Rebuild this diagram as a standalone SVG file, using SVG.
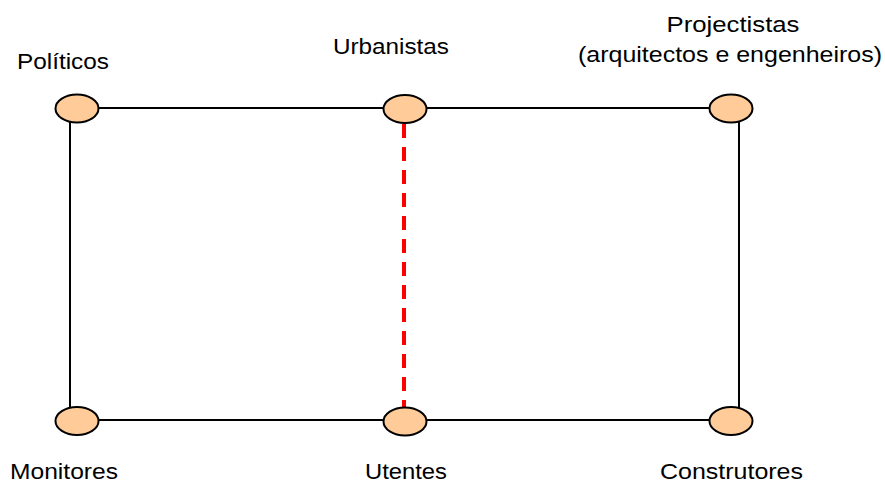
<svg xmlns="http://www.w3.org/2000/svg" width="885" height="486" viewBox="0 0 885 486">
<style>
.node{fill:#FFCC99;stroke:#000;stroke-width:2}
.edge{stroke:#000;stroke-width:2;fill:none}
.dash{stroke:#FF0000;stroke-width:4;stroke-dasharray:14,9;fill:none}
text{font-family:"Liberation Sans",Arial,sans-serif;font-size:22px;fill:#000;text-anchor:middle}
</style>
<rect width="885" height="486" fill="#fff"/>
<g id="connectors">
<line class="edge" x1="77" y1="108" x2="731" y2="108"/>
<line class="edge" x1="77" y1="420" x2="731" y2="420"/>
<line class="edge" x1="70" y1="108" x2="70" y2="420"/>
<line class="edge" x1="739" y1="108" x2="739" y2="420"/>
<line class="dash" x1="404" y1="124" x2="404" y2="408"/>
</g>
<g id="politicos"><ellipse class="node" cx="77" cy="108.5" rx="21.5" ry="14"/><text x="63" y="69" textLength="92" lengthAdjust="spacingAndGlyphs">Políticos</text></g>
<g id="urbanistas"><ellipse class="node" cx="405" cy="109" rx="21.5" ry="14"/><text x="391" y="54" textLength="116" lengthAdjust="spacingAndGlyphs">Urbanistas</text></g>
<g id="projectistas"><ellipse class="node" cx="731" cy="108.5" rx="21.5" ry="14"/><text x="733" y="32" textLength="133" lengthAdjust="spacingAndGlyphs">Projectistas</text><text x="730" y="62" textLength="304" lengthAdjust="spacingAndGlyphs">(arquitectos e engenheiros)</text></g>
<g id="monitores"><ellipse class="node" cx="77" cy="421" rx="21.5" ry="14"/><text x="64" y="479" textLength="108" lengthAdjust="spacingAndGlyphs">Monitores</text></g>
<g id="utentes"><ellipse class="node" cx="405" cy="421.5" rx="21.5" ry="14"/><text x="406" y="479" textLength="82" lengthAdjust="spacingAndGlyphs">Utentes</text></g>
<g id="construtores"><ellipse class="node" cx="731" cy="421" rx="21.5" ry="14"/><text x="731.5" y="479" textLength="143" lengthAdjust="spacingAndGlyphs">Construtores</text></g>
</svg>
